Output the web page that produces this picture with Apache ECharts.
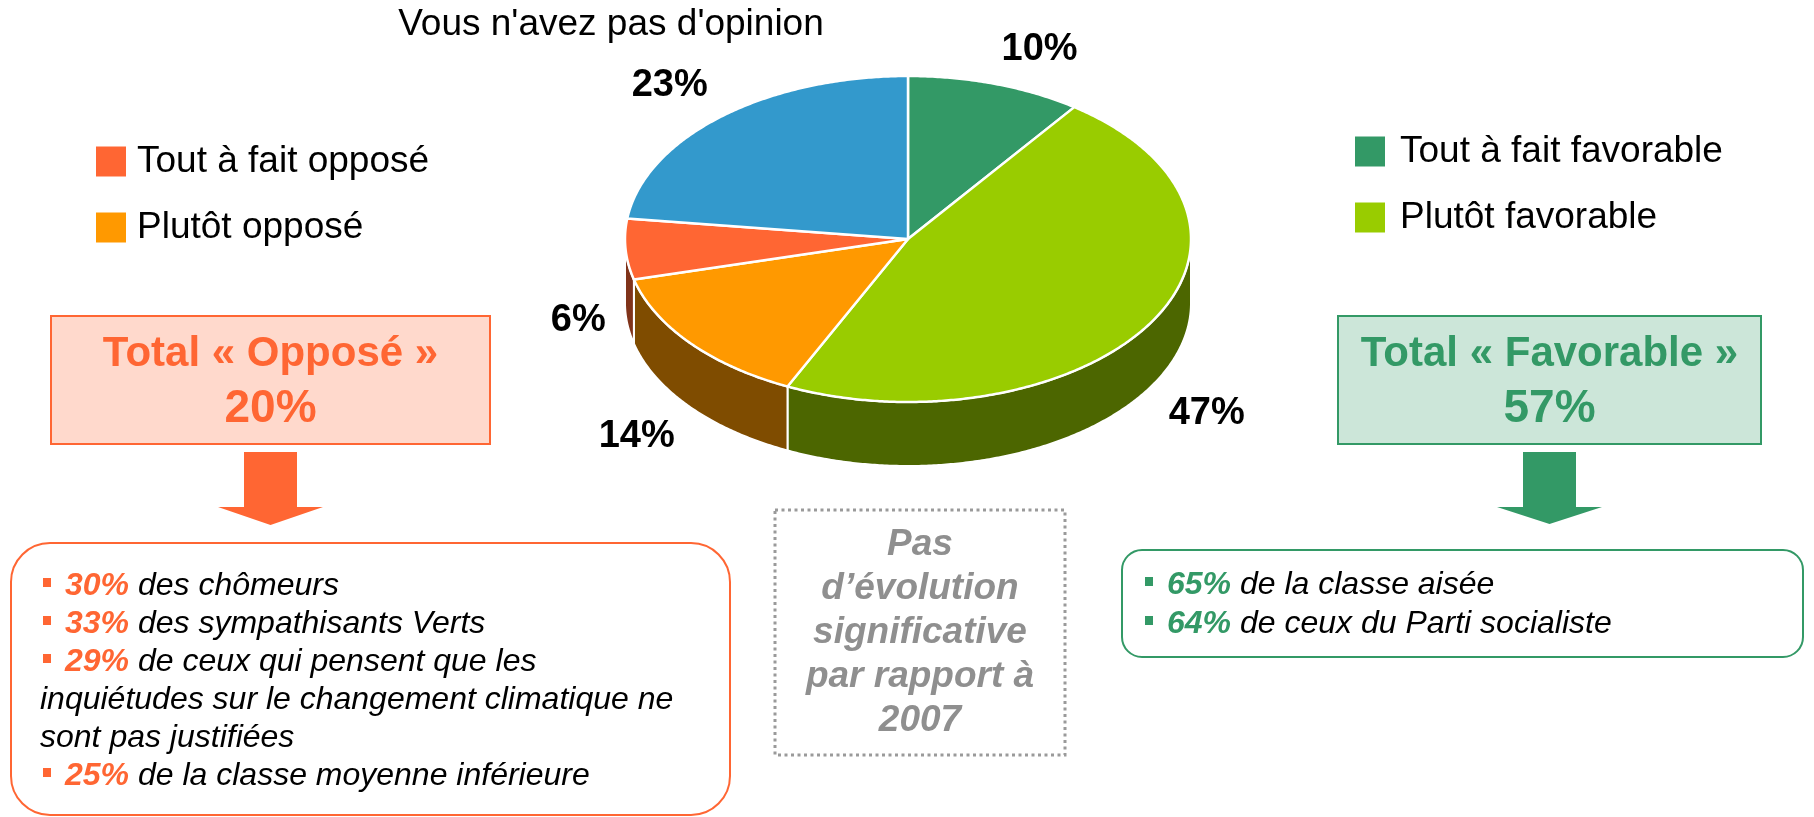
<!DOCTYPE html>
<html lang="fr">
<head>
<meta charset="utf-8">
<title>Opinion : favorable ou opposé</title>
<script src="https://cdn.jsdelivr.net/npm/echarts@6/dist/echarts.min.js"></script>
<style>
  html, body { margin: 0; padding: 0; background: #fff; }
  #chart { width: 1814px; height: 817px; }
</style>
</head>
<body>
<div id="chart"></div>
<script>
// ---- data ----
const categories = ['Tout à fait favorable', 'Plutôt favorable', 'Plutôt opposé', 'Tout à fait opposé', "Vous n'avez pas d'opinion"];
const shares = [10, 47, 14, 6, 23];

const opposeNotePct = [30, 33, 29, 25];
const opposeNoteText = [
  ['des chômeurs'],
  ['des sympathisants Verts'],
  ['de ceux qui pensent que les', 'inquiétudes sur le changement climatique ne', 'sont pas justifiées'],
  ['de la classe moyenne inférieure']
];
const favorNotePct = [65, 64];
const favorNoteText = ['de la classe aisée', 'de ceux du Parti socialiste'];
const stabilityNote = ['Pas', 'd’évolution', 'significative', 'par rapport à', '2007'];

// ---- styles ----
const FONT = '"Liberation Sans", Arial, sans-serif';
const topColors = ['#339966', '#99cc00', '#ff9900', '#ff6633', '#3399cc'];
const sideColors = ['#1a4d33', '#4c6600', '#7f4c00', '#80331a', '#1a4d66'];
const ORANGE = '#ff6633';
const GREEN = '#339966';

const totalFavor = shares[0] + shares[1];
const totalOppose = shares[2] + shares[3];

// ---- tilted pie (top face + visible front wall) ----
const PIE = { cx: 908, cy: 239, rx: 283, ry: 163, depth: 64 };
const TOTAL = shares.reduce((a, b) => a + b, 0);

function ellipsePt(t, dy) {
  return [PIE.cx + PIE.rx * Math.sin(t), PIE.cy - PIE.ry * Math.cos(t) + (dy || 0)];
}
function arc(a, b, dy) {
  const n = Math.max(2, Math.ceil(Math.abs(b - a) / (Math.PI / 360)));
  const pts = [];
  for (let k = 0; k <= n; k++) pts.push(ellipsePt(a + (b - a) * k / n, dy));
  return pts;
}

function renderSlice(params, api) {
  const i = params.seriesIndex;
  const value = api.value(0);
  let before = 0;
  for (let j = 0; j < i; j++) before += shares[j];
  const a0 = before / TOTAL * 2 * Math.PI;
  const a1 = (before + value) / TOTAL * 2 * Math.PI;
  const children = [];

  // front wall: only the part facing the viewer (angles between 90° and 270°)
  const lo = Math.max(a0, Math.PI / 2);
  const hi = Math.min(a1, 1.5 * Math.PI);
  if (hi > lo) {
    children.push({
      type: 'polygon',
      shape: { points: arc(lo, hi, 0).concat(arc(hi, lo, PIE.depth)) },
      style: { fill: sideColors[i], stroke: '#fff', lineWidth: 2, lineJoin: 'round' },
      z2: 0
    });
  }
  // top face
  children.push({
    type: 'polygon',
    shape: { points: [[PIE.cx, PIE.cy]].concat(arc(a0, a1, 0)) },
    style: { fill: topColors[i], stroke: '#fff', lineWidth: 2.5, lineJoin: 'round' },
    z2: 1
  });
  // value label just outside the slice
  const mid = (a0 + a1) / 2;
  const s = Math.sin(mid), c = Math.cos(mid);
  const middle = Math.abs(c) < 0.3;
  const lx = PIE.cx + 1.07 * PIE.rx * s;
  const ly = PIE.cy - 1.10 * PIE.ry * c + (c < 0 ? PIE.depth : 0) + (middle ? 6 : 0);
  children.push({
    type: 'text',
    x: lx, y: ly,
    style: {
      text: value + '%',
      align: s > 0.3 ? 'left' : (s < -0.3 ? 'right' : 'center'),
      verticalAlign: middle ? 'middle' : (c > 0 ? 'bottom' : 'top'),
      font: 'bold 38px ' + FONT,
      fill: '#000'
    },
    z2: 2
  });
  return { type: 'group', children };
}

const series = categories.map((name, i) => ({
  type: 'custom',
  name,
  coordinateSystem: 'none',
  renderItem: renderSlice,
  data: [shares[i]],
  itemStyle: { color: topColors[i] },
  silent: true,
  animation: false
}));

// ---- annotations ----
const graphic = [];

function addText(x, y, text, font, fill, align) {
  graphic.push({
    type: 'text', x, y,
    style: { text, font, fill, align: align || 'center', verticalAlign: 'middle' }
  });
}

// label of the blue slice, written above the pie
addText(611, 25, categories[4], '37px ' + FONT, '#000');

// totals
graphic.push({ type: 'rect', shape: { x: 51, y: 316, width: 439, height: 128 },
  style: { fill: '#ffd9cc', stroke: ORANGE, lineWidth: 2 } });
addText(270.5, 354, 'Total « Opposé »', 'bold 42px ' + FONT, ORANGE);
addText(270.5, 409, totalOppose + '%', 'bold 46px ' + FONT, ORANGE);

graphic.push({ type: 'rect', shape: { x: 1338, y: 316, width: 423, height: 128 },
  style: { fill: '#cce6d9', stroke: GREEN, lineWidth: 2 } });
addText(1549.5, 354, 'Total « Favorable »', 'bold 42px ' + FONT, GREEN);
addText(1549.5, 409, totalFavor + '%', 'bold 46px ' + FONT, GREEN);

// down arrows
function downArrow(cx, top, shaftW, shaftBottom, headW, tip, color) {
  graphic.push({
    type: 'polygon',
    shape: { points: [
      [cx - shaftW / 2, top], [cx + shaftW / 2, top], [cx + shaftW / 2, shaftBottom],
      [cx + headW / 2, shaftBottom], [cx, tip], [cx - headW / 2, shaftBottom], [cx - shaftW / 2, shaftBottom]
    ] },
    style: { fill: color }
  });
}
downArrow(270.5, 452, 53, 507, 105, 525, ORANGE);
downArrow(1549.5, 452, 53, 507, 105, 524, GREEN);

// note boxes
graphic.push({ type: 'rect', shape: { x: 11, y: 543, width: 719, height: 272, r: 39 },
  style: { fill: 'none', stroke: ORANGE, lineWidth: 2 } });
graphic.push({ type: 'rect', shape: { x: 1122, y: 550, width: 681, height: 107, r: 20 },
  style: { fill: 'none', stroke: GREEN, lineWidth: 2 } });
graphic.push({ type: 'rect', shape: { x: 775, y: 510, width: 290, height: 245 },
  style: { fill: 'none', stroke: '#9a9a9a', lineWidth: 3, lineDash: [3, 3.5] } });

function noteRich(color) {
  return {
    p: { fill: color, fontSize: 32, fontWeight: 'bold', fontStyle: 'italic', fontFamily: FONT },
    t: { fill: '#000', fontSize: 32, fontStyle: 'italic', fontFamily: FONT }
  };
}

function addNotes(pcts, texts, bulletX, textX, wrapX, firstY, lineH, color) {
  let row = 0;
  pcts.forEach((pct, k) => {
    const lines = Array.isArray(texts[k]) ? texts[k] : [texts[k]];
    lines.forEach((line, li) => {
      const y = firstY + row * lineH;
      if (li === 0) {
        graphic.push({ type: 'rect', shape: { x: bulletX, y: y - 8, width: 8, height: 9 }, style: { fill: color } });
        graphic.push({
          type: 'text', x: textX, y,
          style: { text: '{p|' + pct + '%}{t| ' + line + '}', rich: noteRich(color), align: 'left', verticalAlign: 'middle' }
        });
      } else {
        graphic.push({
          type: 'text', x: wrapX, y,
          style: { text: line, font: 'italic 32px ' + FONT, fill: '#000', align: 'left', verticalAlign: 'middle' }
        });
      }
      row++;
    });
  });
}
addNotes(opposeNotePct, opposeNoteText, 43, 65, 40, 586, 38, ORANGE);
addNotes(favorNotePct, favorNoteText, 1145, 1167, 1167, 585, 39, GREEN);

stabilityNote.forEach((line, k) => {
  addText(920, 545 + 44 * k, line, 'italic bold 37px ' + FONT, '#8f8f8f');
});

// ---- chart ----
const chart = echarts.init(document.getElementById('chart'), null, { renderer: 'canvas' });
const legendBase = {
  orient: 'vertical',
  icon: 'rect',
  itemWidth: 30,
  itemHeight: 30,
  itemGap: 29,
  padding: 0,
  selectedMode: false,
  textStyle: { fontSize: 37, color: '#000', fontFamily: FONT }
};
chart.setOption({
  backgroundColor: '#fff',
  animation: false,
  legend: [
    Object.assign({}, legendBase, {
      data: [categories[3], categories[2]].map(n => ({ name: n, itemStyle: { color: topColors[categories.indexOf(n)] } })),
      left: 96, top: 143,
      textStyle: Object.assign({}, legendBase.textStyle, { padding: [0, 0, 0, 6] })
    }),
    Object.assign({}, legendBase, {
      data: [categories[0], categories[1]].map(n => ({ name: n, itemStyle: { color: topColors[categories.indexOf(n)] } })),
      left: 1355, top: 133,
      textStyle: Object.assign({}, legendBase.textStyle, { padding: [0, 0, 0, 10] })
    })
  ],
  graphic,
  series
});
</script>
</body>
</html>
